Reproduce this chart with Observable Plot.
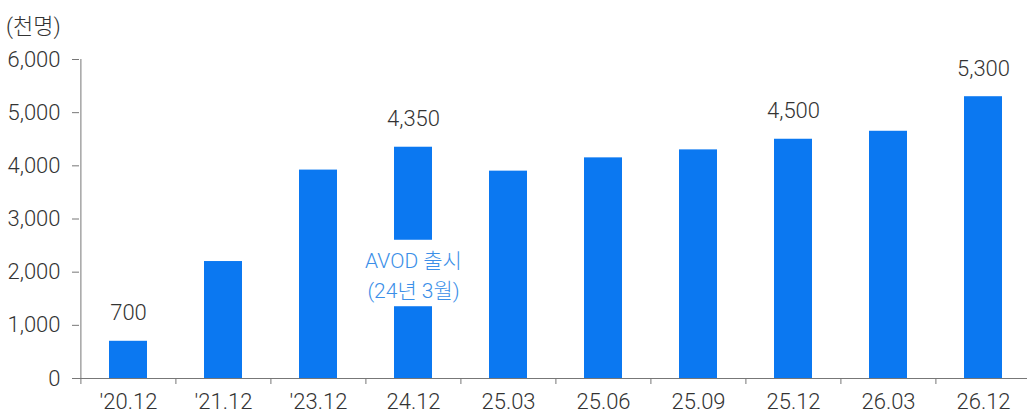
<!DOCTYPE html>
<html><head><meta charset="utf-8">
<script src="https://cdn.jsdelivr.net/npm/d3@7"></script>
<script src="https://cdn.jsdelivr.net/npm/@observablehq/plot@0.6"></script>
<style>
html,body{margin:0;padding:0;background:#fff;overflow:hidden;}
body{font-family:Roboto,"Noto Sans CJK KR",sans-serif;font-weight:300;color:#333;}
#unit{height:40px;box-sizing:border-box;padding:14px 0 0 6px;font-size:22px;line-height:26px;}
</style></head><body>
<div id="unit">(천명)</div>
<div id="chart"></div>
<script>
const categories = ["'20.12","'21.12","'23.12","24.12","25.03","25.06","25.09","25.12","26.03","26.12"];
const values = [700, 2200, 3920, 4350, 3900, 4150, 4300, 4500, 4650, 5300];
const labeledCategories = ["'20.12", "24.12", "25.12", "26.12"];
const yTicks = [0, 1000, 2000, 3000, 4000, 5000, 6000];
const annotationCategory = "24.12";
const annotationText = "AVOD 출시\n(24년 3월)";
const annotationCenter = 1975;
const annotationBox = [1350, 2600];

const data = categories.map((c, i) => ({c, v: values[i]}));
const xRange = [79, 1031];
const step = (xRange[1] - xRange[0]) / categories.length;
const fmt = d3.format(",");

const chart = Plot.plot({
  width: 1027,
  height: 374,
  marginTop: 19,
  marginBottom: 36,
  marginLeft: 79,
  marginRight: 0,
  style: {fontFamily: 'Roboto, "Noto Sans CJK KR", sans-serif', fontSize: "22px", fontWeight: 300, color: "#333", background: "#fff"},
  x: {domain: categories, range: xRange, paddingInner: 0.6, paddingOuter: 0.3, axis: null, label: null},
  y: {domain: [0, 6000], axis: null, label: null},
  marks: [
    Plot.barY(data, {x: "c", y: "v", fill: "#0b78f1"}),
    Plot.barY([annotationCategory], {x: d => d, y1: annotationBox[0], y2: annotationBox[1], fill: "#fff"}),
    Plot.text([annotationCategory], {x: d => d, y: annotationCenter, text: () => annotationText, fill: "#3b8fe8", lineHeight: 1.45, lineAnchor: "middle", fontSize: 21}),
    Plot.text(data.filter(d => labeledCategories.includes(d.c)), {x: "c", y: "v", text: d => fmt(d.v), dy: -28, lineAnchor: "middle", fill: "#333"}),
    Plot.axisY({ticks: yTicks, tickSize: 7, tickPadding: 12, tickFormat: fmt, stroke: "#777", fill: "#333", label: null}),
    Plot.axisX({tickSize: 0, tickPadding: 15, fill: "#333", label: null}),
    Plot.ruleY([0], {stroke: "#777"}),
    Plot.ruleX([categories[0]], {x: d => d, dx: -step / 2, insetBottom: -6, stroke: "#777"}),
    Plot.ruleX(categories.slice(1), {x: d => d, y1: 0, y2: 0, dx: -step / 2, insetBottom: -6, stroke: "#777"}),
    Plot.ruleX(categories.slice(-1), {x: d => d, y1: 0, y2: 0, dx: step / 2, insetBottom: -6, stroke: "#777"})
  ]
});
document.getElementById("chart").appendChild(chart);
</script>
</body></html>
